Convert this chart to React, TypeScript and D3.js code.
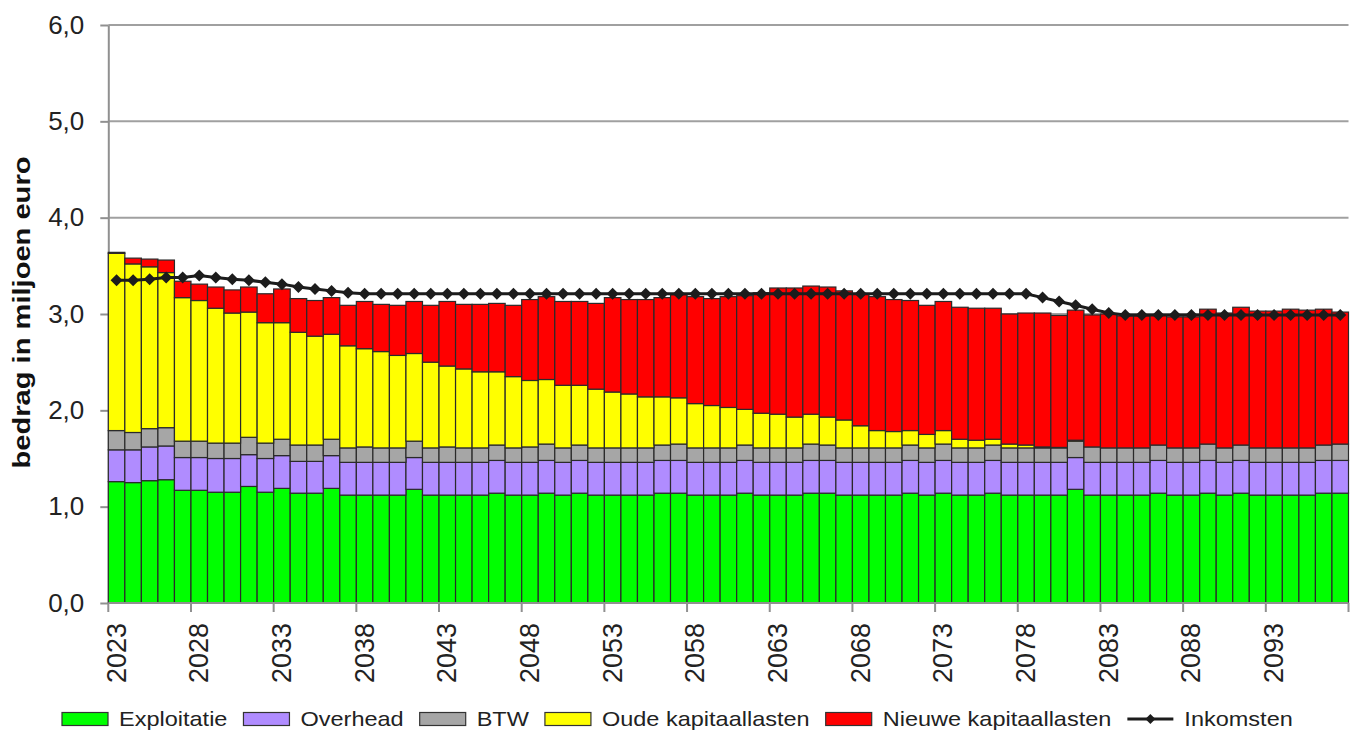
import React, { useEffect, useRef } from "react";
import * as d3 from "d3";

// years on the x axis
const years = d3.range(2023, 2098);

// values in miljoen euro, one per year
const exploitatie = [
  1.26, 1.25, 1.27, 1.28, 1.17, 1.17, 1.15, 1.15, 1.21, 1.15,
  1.19, 1.14, 1.14, 1.19, 1.12, 1.12, 1.12, 1.12, 1.18, 1.12,
  1.12, 1.12, 1.12, 1.14, 1.12, 1.12, 1.14, 1.12, 1.14, 1.12,
  1.12, 1.12, 1.12, 1.14, 1.14, 1.12, 1.12, 1.12, 1.14, 1.12,
  1.12, 1.12, 1.14, 1.14, 1.12, 1.12, 1.12, 1.12, 1.14, 1.12,
  1.14, 1.12, 1.12, 1.14, 1.12, 1.12, 1.12, 1.12, 1.18, 1.12,
  1.12, 1.12, 1.12, 1.14, 1.12, 1.12, 1.14, 1.12, 1.14, 1.12,
  1.12, 1.12, 1.12, 1.14, 1.14,
];
const overhead = [
  0.33, 0.34, 0.35, 0.35, 0.34, 0.34, 0.35, 0.35, 0.33, 0.35,
  0.34, 0.33, 0.33, 0.34, 0.34, 0.34, 0.34, 0.34, 0.33, 0.34,
  0.34, 0.34, 0.34, 0.34, 0.34, 0.34, 0.34, 0.34, 0.34, 0.34,
  0.34, 0.34, 0.34, 0.34, 0.34, 0.34, 0.34, 0.34, 0.34, 0.34,
  0.34, 0.34, 0.34, 0.34, 0.34, 0.34, 0.34, 0.34, 0.34, 0.34,
  0.34, 0.34, 0.34, 0.34, 0.34, 0.34, 0.34, 0.34, 0.33, 0.34,
  0.34, 0.34, 0.34, 0.34, 0.34, 0.34, 0.34, 0.34, 0.34, 0.34,
  0.34, 0.34, 0.34, 0.34, 0.34,
];
const btw = [
  0.2, 0.18, 0.19, 0.19, 0.17, 0.17, 0.16, 0.16, 0.18, 0.16,
  0.17, 0.17, 0.17, 0.17, 0.15, 0.16, 0.15, 0.15, 0.17, 0.15,
  0.16, 0.15, 0.15, 0.16, 0.15, 0.16, 0.17, 0.15, 0.16, 0.15,
  0.15, 0.15, 0.15, 0.16, 0.17, 0.15, 0.15, 0.15, 0.16, 0.15,
  0.15, 0.15, 0.17, 0.16, 0.15, 0.15, 0.15, 0.15, 0.16, 0.15,
  0.17, 0.15, 0.15, 0.16, 0.15, 0.15, 0.15, 0.15, 0.17, 0.16,
  0.15, 0.15, 0.15, 0.16, 0.15, 0.15, 0.17, 0.15, 0.16, 0.15,
  0.15, 0.15, 0.15, 0.16, 0.17,
];
const oudeKapitaallasten = [
  1.84, 1.75, 1.68, 1.61, 1.49, 1.46, 1.4, 1.35, 1.3, 1.25,
  1.21, 1.17, 1.13, 1.09, 1.06, 1.02, 1.0, 0.96, 0.91, 0.89,
  0.84, 0.82, 0.79, 0.76, 0.74, 0.69, 0.67, 0.65, 0.62, 0.61,
  0.58, 0.56, 0.53, 0.5, 0.48, 0.46, 0.44, 0.42, 0.37, 0.36,
  0.35, 0.32, 0.31, 0.29, 0.29, 0.23, 0.18, 0.17, 0.15, 0.14,
  0.14, 0.09, 0.08, 0.06, 0.04, 0.03, 0.01, 0.005, 0.01, 0,
  0, 0, 0, 0, 0, 0, 0, 0, 0, 0,
  0, 0, 0, 0, 0,
];
const nieuweKapitaallasten = [
  0.01, 0.06, 0.08, 0.13, 0.17, 0.17, 0.22, 0.24, 0.26, 0.3,
  0.35, 0.35, 0.37, 0.38, 0.42, 0.49, 0.49, 0.52, 0.54, 0.59,
  0.67, 0.67, 0.7, 0.71, 0.74, 0.84, 0.86, 0.87, 0.87, 0.89,
  0.98, 0.98, 1.01, 1.03, 1.07, 1.11, 1.11, 1.15, 1.18, 1.25,
  1.31, 1.34, 1.33, 1.35, 1.34, 1.37, 1.39, 1.37, 1.35, 1.34,
  1.34, 1.37, 1.37, 1.36, 1.35, 1.37, 1.39, 1.37, 1.35, 1.37,
  1.39, 1.37, 1.37, 1.35, 1.36, 1.36, 1.4, 1.4, 1.43, 1.42,
  1.42, 1.44, 1.43, 1.41, 1.37,
];
const inkomsten = [
  3.35, 3.35, 3.36, 3.38, 3.38, 3.4, 3.38, 3.36, 3.35, 3.33,
  3.31, 3.28, 3.26, 3.24, 3.22, 3.21, 3.21, 3.21, 3.21, 3.21,
  3.21, 3.21, 3.21, 3.21, 3.21, 3.21, 3.21, 3.21, 3.21, 3.21,
  3.21, 3.21, 3.21, 3.21, 3.21, 3.21, 3.21, 3.21, 3.21, 3.21,
  3.21, 3.21, 3.21, 3.21, 3.21, 3.21, 3.21, 3.21, 3.21, 3.21,
  3.21, 3.21, 3.21, 3.21, 3.21, 3.21, 3.17, 3.13, 3.09, 3.05,
  3.01, 2.99, 2.99, 2.99, 2.99, 2.99, 2.99, 2.99, 2.99, 2.99,
  2.99, 2.99, 2.99, 2.99, 2.99,
];

const seriesNames = ["Exploitatie", "Overhead", "BTW", "Oude kapitaallasten", "Nieuwe kapitaallasten"];
const seriesColors = ["#00ff00", "#b08cff", "#a6a6a6", "#ffff00", "#ff0000"];
const yTicks = [0, 1, 2, 3, 4, 5, 6];

const FONT = "'Liberation Sans', Arial, sans-serif";

export default function App() {
  const ref = useRef<SVGSVGElement>(null);

  useEffect(() => {
    document.body.style.margin = "0";
    drawChart();
  }, []);

  function drawChart() {
    const svg = d3.select(ref.current);
    svg.selectAll("*").remove();

    const left = 108.3,
      right = 1348.5,
      top = 25,
      bottom = 603;

    const rows = years.map((yr, i) => ({
      year: String(yr),
      Exploitatie: exploitatie[i],
      Overhead: overhead[i],
      BTW: btw[i],
      "Oude kapitaallasten": oudeKapitaallasten[i],
      "Nieuwe kapitaallasten": nieuweKapitaallasten[i],
    }));

    const x = d3.scaleBand().domain(rows.map((d) => d.year)).range([left, right]).padding(0);
    const y = d3.scaleLinear().domain([0, 6]).range([bottom, top]);
    const color = d3.scaleOrdinal<string, string>().domain(seriesNames).range(seriesColors);

    // gridlines
    svg
      .append("g")
      .selectAll("line")
      .data(yTicks.slice(1))
      .join("line")
      .attr("x1", left)
      .attr("x2", right)
      .attr("y1", (d) => y(d))
      .attr("y2", (d) => y(d))
      .attr("stroke", "#a0a0a0")
      .attr("stroke-width", 2);

    // y axis
    const yAxis = svg
      .append("g")
      .attr("transform", `translate(${left},0)`)
      .call(
        d3
          .axisLeft(y)
          .tickValues(yTicks)
          .tickSize(8)
          .tickSizeOuter(0)
          .tickPadding(16)
          .tickFormat((d) => d3.format(".1f")(d as number).replace(".", ","))
      );
    yAxis.select(".domain").attr("stroke", "#909090").attr("stroke-width", 2);
    yAxis.selectAll(".tick line").attr("stroke", "#909090").attr("stroke-width", 2);
    yAxis
      .selectAll(".tick text")
      .attr("font-family", FONT)
      .attr("font-size", 26)
      .attr("fill", "#222");

    // stacked bars
    const stack = d3.stack<any>().keys(seriesNames)(rows);
    svg
      .append("g")
      .selectAll("g")
      .data(stack)
      .join("g")
      .attr("fill", (s) => color(s.key))
      .selectAll("rect")
      .data((s) => s.filter((d) => d[1] - d[0] > 0))
      .join("rect")
      .attr("x", (d) => x(d.data.year)!)
      .attr("width", x.bandwidth())
      .attr("y", (d) => y(d[1]))
      .attr("height", (d) => y(d[0]) - y(d[1]))
      .attr("stroke", "#2a2a2a")
      .attr("stroke-width", 1.2);

    // x axis
    svg
      .append("line")
      .attr("x1", left)
      .attr("x2", right)
      .attr("y1", bottom)
      .attr("y2", bottom)
      .attr("stroke", "#909090")
      .attr("stroke-width", 2);

    const tickYears = rows.filter((d, i) => i % 5 === 0).map((d) => d.year);
    const tickPos = tickYears.map((d) => x(d)!).concat([right]);
    svg
      .append("g")
      .selectAll("line")
      .data(tickPos)
      .join("line")
      .attr("x1", (d) => d)
      .attr("x2", (d) => d)
      .attr("y1", bottom)
      .attr("y2", bottom + 9)
      .attr("stroke", "#909090")
      .attr("stroke-width", 2);

    svg
      .append("g")
      .selectAll("text")
      .data(tickYears)
      .join("text")
      .attr("transform", (d) => `translate(${x(d)! + x.bandwidth() / 2},${bottom + 20}) rotate(-90)`)
      .attr("text-anchor", "end")
      .attr("dominant-baseline", "central")
      .attr("font-family", FONT)
      .attr("font-size", 27)
      .attr("fill", "#222")
      .text((d) => d);

    // y title
    svg
      .append("text")
      .attr("transform", `translate(22,${(155 + 470) / 2}) rotate(-90)`)
      .attr("text-anchor", "middle")
      .attr("dominant-baseline", "central")
      .attr("font-family", FONT)
      .attr("font-weight", "bold")
      .attr("font-size", 23)
      .attr("textLength", 312)
      .attr("lengthAdjust", "spacingAndGlyphs")
      .attr("fill", "#111")
      .text("bedrag in miljoen euro");

    // inkomsten line
    const line = d3
      .line<number>()
      .x((d, i) => x(rows[i].year)! + x.bandwidth() / 2)
      .y((d) => y(d));
    svg
      .append("path")
      .datum(inkomsten)
      .attr("d", line)
      .attr("fill", "none")
      .attr("stroke", "#1c1c1c")
      .attr("stroke-width", 3);

    const diamond = "M0,-6L6,0L0,6L-6,0Z";
    svg
      .append("g")
      .selectAll("path")
      .data(inkomsten)
      .join("path")
      .attr("d", diamond)
      .attr("transform", (d, i) => `translate(${x(rows[i].year)! + x.bandwidth() / 2},${y(d)})`)
      .attr("fill", "#1c1c1c");

    // legend
    const legend = svg.append("g");
    const ly = 719;
    const sx = 1.12;
    let lx = 62;
    const items = seriesNames.map((n) => ({ name: n, type: "bar" })).concat([{ name: "Inkomsten", type: "line" }]);
    items.forEach((item) => {
      if (item.type === "bar") {
        legend
          .append("rect")
          .attr("x", lx)
          .attr("y", ly - 6.5)
          .attr("width", 46)
          .attr("height", 13)
          .attr("fill", color(item.name))
          .attr("stroke", "#333")
          .attr("stroke-width", 1.2);
      } else {
        legend
          .append("line")
          .attr("x1", lx)
          .attr("x2", lx + 46)
          .attr("y1", ly)
          .attr("y2", ly)
          .attr("stroke", "#1c1c1c")
          .attr("stroke-width", 3);
        legend
          .append("path")
          .attr("d", "M0,-5L5,0L0,5L-5,0Z")
          .attr("transform", `translate(${lx + 23},${ly})`)
          .attr("fill", "#1c1c1c");
      }
      const g = legend.append("g").attr("transform", `translate(${lx + 57},${ly}) scale(${sx},1)`);
      const t = g
        .append("text")
        .attr("dominant-baseline", "central")
        .attr("font-family", FONT)
        .attr("font-size", 21)
        .attr("fill", "#222")
        .text(item.name);
      const w = (t.node() as SVGTextElement).getComputedTextLength() * sx;
      lx = lx + 57 + w + 16;
    });
  }

  return (
    <svg
      ref={ref}
      width={1357}
      height={731}
      style={{ position: "absolute", left: 0, top: 0, background: "#fff" }}
    />
  );
}
